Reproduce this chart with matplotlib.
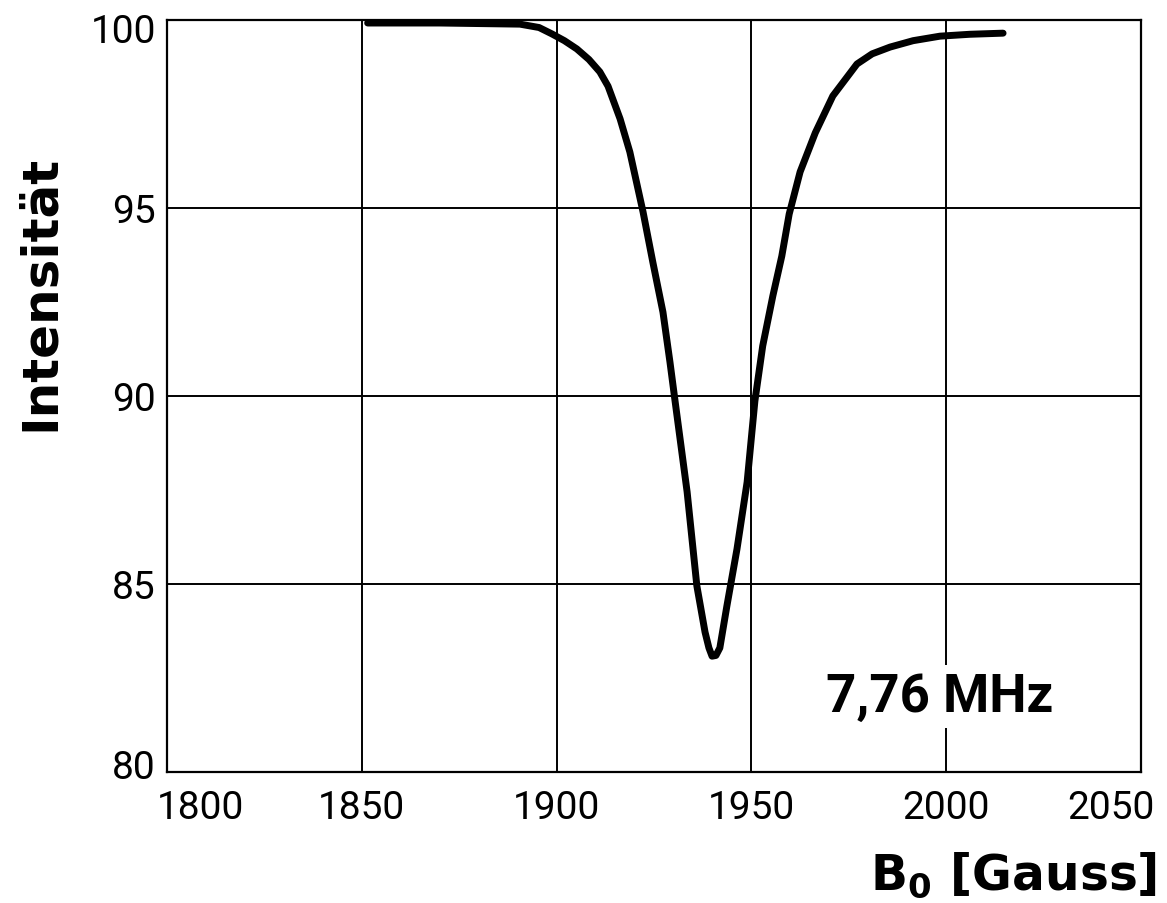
import matplotlib
matplotlib.use("Agg")
import matplotlib.pyplot as plt
import matplotlib.transforms as mtransforms

# Data
b_field = [1851.5, 1870.0, 1890.6, 1895.5, 1898.8, 1902.0, 1905.2, 1908.3, 1911.1, 1913.2,
           1916.3, 1918.8, 1922.2, 1924.7, 1927.3, 1929.1, 1930.4, 1933.5, 1936.0,
           1938.1, 1939.1, 1939.9, 1940.9, 1941.9, 1943.7, 1946.3, 1948.9, 1950.9,
           1952.9, 1955.5, 1957.8, 1959.7, 1962.5, 1966.4, 1970.9, 1977.1, 1981.0,
           1985.6, 1991.5, 1998.4, 2006.0, 2014.6]
intensity = [99.92, 99.92, 99.89, 99.8, 99.63, 99.45, 99.23, 98.95, 98.62, 98.24,
             97.37, 96.49, 94.89, 93.56, 92.23, 90.90, 89.87, 87.45, 84.95,
             83.72, 83.3, 83.08, 83.1, 83.3, 84.41, 85.93, 87.71, 89.87,
             91.33, 92.66, 93.72, 94.84, 95.96, 97.0, 97.98, 98.83, 99.1,
             99.28, 99.45, 99.57, 99.62, 99.65]

x_ticks = [1800, 1850, 1900, 1950, 2000, 2050]
y_ticks = [80, 85, 90, 95, 100]
x_label = "B$_0$ [Gauss]"
y_label = "Intensität"
annotation = "7,76 MHz"

plt.rcParams['font.family'] = ['Roboto', 'DejaVu Sans']
plt.rcParams['mathtext.default'] = 'regular'

fig = plt.figure(figsize=(11.67, 9.04), dpi=100)
ax = fig.add_axes([167/1167, 1 - 773/904, (1141-167)/1167, (773-21)/904])

ax.set_xlim(1800, 2050)
ax.set_ylim(80, 100)
ax.set_xticks(x_ticks)
ax.set_yticks(y_ticks)
ax.grid(True, color='black', linewidth=1.4)
ax.set_axisbelow(True)
for s in ax.spines.values():
    s.set_linewidth(1.6)
    s.set_color('black')

ax.tick_params(length=0, labelsize=28, pad=8)
ax.tick_params(axis='x', pad=12)

ax.plot(b_field, intensity, color='black', linewidth=5, solid_capstyle='round',
        solid_joinstyle='round', zorder=3)

# adjust end tick labels like the reference
xl = ax.get_xticklabels()
xl[0].set_ha('left')
xl[0].set_transform(xl[0].get_transform() + mtransforms.ScaledTranslation(-10/100, 0, fig.dpi_scale_trans))
xl[-1].set_ha('right')
xl[-1].set_transform(xl[-1].get_transform() + mtransforms.ScaledTranslation(14/100, 0, fig.dpi_scale_trans))
yl = ax.get_yticklabels()
yl[0].set_transform(yl[0].get_transform() + mtransforms.ScaledTranslation(0, 8/100, fig.dpi_scale_trans))
yl[-1].set_transform(yl[-1].get_transform() + mtransforms.ScaledTranslation(0, -8/100, fig.dpi_scale_trans))

ax.text(1998.4, 82.0, annotation, fontsize=38, fontweight='bold', ha='center', va='center',
        bbox=dict(facecolor='white', edgecolor='none', pad=4), zorder=4)

fig.text(40/1167, 1 - 293/904, y_label, rotation=90, fontsize=36, fontweight='bold',
         family='DejaVu Sans', ha='center', va='center')
fig.text(1157/1167, 1 - 875/904, x_label, fontsize=35, fontweight='bold',
         family='DejaVu Sans', ha='right', va='center')

fig.savefig("out.png", dpi=100)
